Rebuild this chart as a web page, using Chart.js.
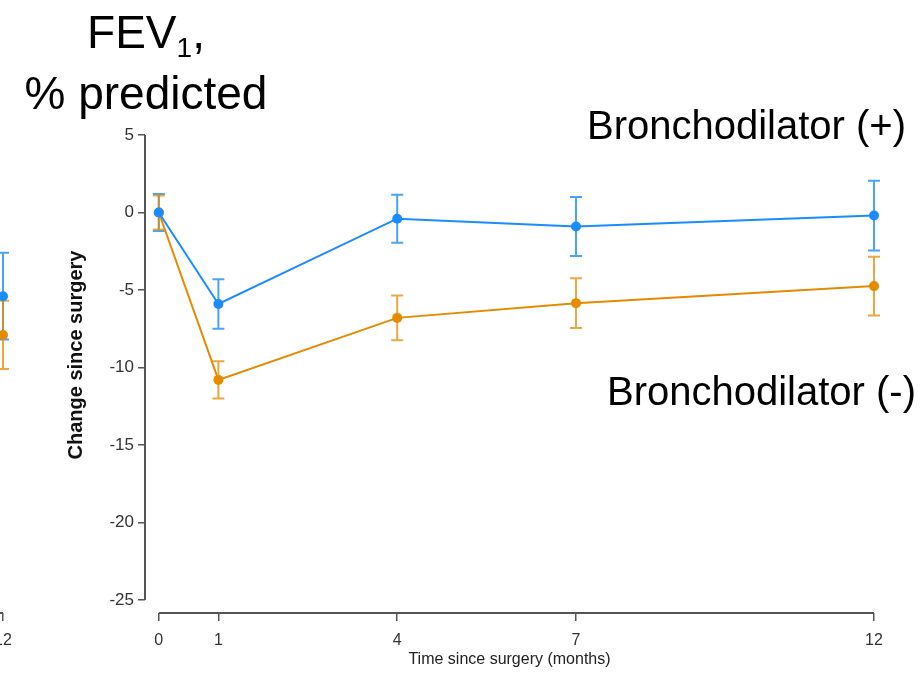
<!DOCTYPE html>
<html>
<head>
<meta charset="utf-8">
<script src="https://cdn.jsdelivr.net/npm/chart.js@4/dist/chart.umd.min.js"></script>
<style>
  html, body { margin: 0; padding: 0; background: #fff; overflow: hidden; }
  body { width: 922px; height: 673px; position: relative; font-family: 'Liberation Sans', Arial, sans-serif; }
  .panel { position: absolute; top: 0; width: 922px; height: 673px; }
  .label { position: absolute; color: #000; white-space: nowrap; line-height: 1; }
  #title { position: absolute; left: 0; top: 5px; width: 292px; text-align: center; font-size: 46px; line-height: 54px; }
  #title sub { font-size: 28px; vertical-align: baseline; position: relative; top: 9px; }
</style>
</head>
<body>
<div class="panel" style="left:-871px"><canvas id="leftChart" width="922" height="673"></canvas></div>
<div class="panel" style="left:0"><canvas id="mainChart" width="922" height="673"></canvas></div>

<div id="title">FEV<sub>1</sub>,<br>% predicted</div>
<div class="label" style="left:587px; top:105px; font-size:40px;">Bronchodilator (+)</div>
<div class="label" style="left:607px; top:371px; font-size:40px;">Bronchodilator (-)</div>

<script>
// time points (months) and y ticks
const months = [0, 1, 4, 7, 12];
const yTicks = [5, 0, -5, -10, -15, -20, -25];

// main panel: change in FEV1 % predicted, mean and error
const withBd = [0, -5.9, -0.4, -0.9, -0.2];
const withBdErr = [1.2, 1.6, 1.55, 1.9, 2.25];
const withoutBd = [0, -10.8, -6.8, -5.85, -4.75];
const withoutBdErr = [1.1, 1.2, 1.45, 1.6, 1.9];

// left panel, cut off by the picture edge: only its last point shows
const leftWithBd = [null, null, null, null, -5.4];
const leftWithBdErr = [null, null, null, null, 2.8];
const leftWithoutBd = [null, null, null, null, -7.9];
const leftWithoutBdErr = [null, null, null, null, 2.2];

const BLUE = '#1a8cff';
const ORANGE = '#e68a00';
const AXIS = '#555';
const FONT = "'Liberation Sans', Arial, sans-serif";

const toPoints = (vals) => months.map((m, i) => ({ x: m, y: vals[i] }));

// error bars drawn from the data through the scales
const errorBars = {
  id: 'errorBars',
  beforeDatasetsDraw(chart) {
    const { ctx, scales: { x, y } } = chart;
    chart.data.datasets.forEach((ds) => {
      ctx.save();
      ctx.strokeStyle = ds.errColor;
      ctx.lineWidth = 2;
      ds.data.forEach((p, i) => {
        const e = ds.errors[i];
        if (p.y == null || e == null) return;
        const px = x.getPixelForValue(p.x);
        const top = y.getPixelForValue(p.y + e);
        const bot = y.getPixelForValue(p.y - e);
        ctx.beginPath();
        ctx.moveTo(px, top); ctx.lineTo(px, bot);
        ctx.moveTo(px - 6, top); ctx.lineTo(px + 6, top);
        ctx.moveTo(px - 6, bot); ctx.lineTo(px + 6, bot);
        ctx.stroke();
      });
      ctx.restore();
    });
  }
};

// detached axis lines (y from 5 to -25, x from 0 to 12)
const axisLines = {
  id: 'axisLines',
  beforeDatasetsDraw(chart) {
    const { ctx, chartArea, scales: { x, y } } = chart;
    ctx.save();
    ctx.strokeStyle = AXIS;
    ctx.lineWidth = 2;
    ctx.beginPath();
    ctx.moveTo(chartArea.left, y.getPixelForValue(yTicks[0]));
    ctx.lineTo(chartArea.left, y.getPixelForValue(yTicks[yTicks.length - 1]));
    ctx.moveTo(x.getPixelForValue(months[0]), chartArea.bottom);
    ctx.lineTo(x.getPixelForValue(months[months.length - 1]), chartArea.bottom);
    ctx.stroke();
    ctx.restore();
  }
};

function makeChart(canvas, posVals, posErr, negVals, negErr) {
  return new Chart(canvas.getContext('2d'), {
    type: 'line',
    data: {
      datasets: [
        {
          label: 'Bronchodilator (+)',
          data: toPoints(posVals),
          errors: posErr,
          errColor: 'rgba(26, 140, 255, 0.8)',
          borderColor: BLUE,
          backgroundColor: BLUE,
          borderWidth: 2,
          pointRadius: 5,
          pointBorderWidth: 0,
          clip: false,
        },
        {
          label: 'Bronchodilator (-)',
          data: toPoints(negVals),
          errors: negErr,
          errColor: 'rgba(230, 138, 0, 0.75)',
          borderColor: ORANGE,
          backgroundColor: ORANGE,
          borderWidth: 2,
          pointRadius: 5,
          pointBorderWidth: 0,
          clip: false,
        },
      ],
    },
    options: {
      responsive: false,
      animation: false,
      devicePixelRatio: 1,
      layout: { padding: { left: 64, right: 48, top: 97, bottom: 4 } },
      plugins: { legend: { display: false }, tooltip: { enabled: false } },
      scales: {
        x: {
          type: 'linear',
          min: -0.2315,
          max: 12,
          afterBuildTicks: (s) => { s.ticks = months.map((v) => ({ value: v })); },
          afterFit: (s) => { s.height = 56; },
          border: { display: false },
          grid: { drawOnChartArea: false, drawTicks: true, tickLength: 8, color: AXIS, lineWidth: 1.5 },
          ticks: { font: { family: FONT, size: 16 }, color: '#333', padding: 10, maxRotation: 0 },
          title: {
            display: true,
            text: 'Time since surgery (months)',
            font: { family: FONT, size: 16 },
            color: '#222',
            padding: 0,
          },
        },
        y: {
          min: -25.84,
          max: 7.45,
          afterBuildTicks: (s) => { s.ticks = yTicks.map((v) => ({ value: v })); },
          afterFit: (s) => { s.width = 81; },
          border: { display: false },
          grid: { drawOnChartArea: false, drawTicks: true, tickLength: 7, color: AXIS, lineWidth: 1.5 },
          ticks: { font: { family: FONT, size: 17 }, color: '#333', padding: 4 },
          title: {
            display: true,
            text: 'Change since surgery',
            font: { family: FONT, size: 20, weight: 'bold' },
            color: '#111',
            padding: 0,
          },
        },
      },
    },
    plugins: [axisLines, errorBars],
  });
}

makeChart(document.getElementById('leftChart'), leftWithBd, leftWithBdErr, leftWithoutBd, leftWithoutBdErr);
makeChart(document.getElementById('mainChart'), withBd, withBdErr, withoutBd, withoutBdErr);
</script>
</body>
</html>
